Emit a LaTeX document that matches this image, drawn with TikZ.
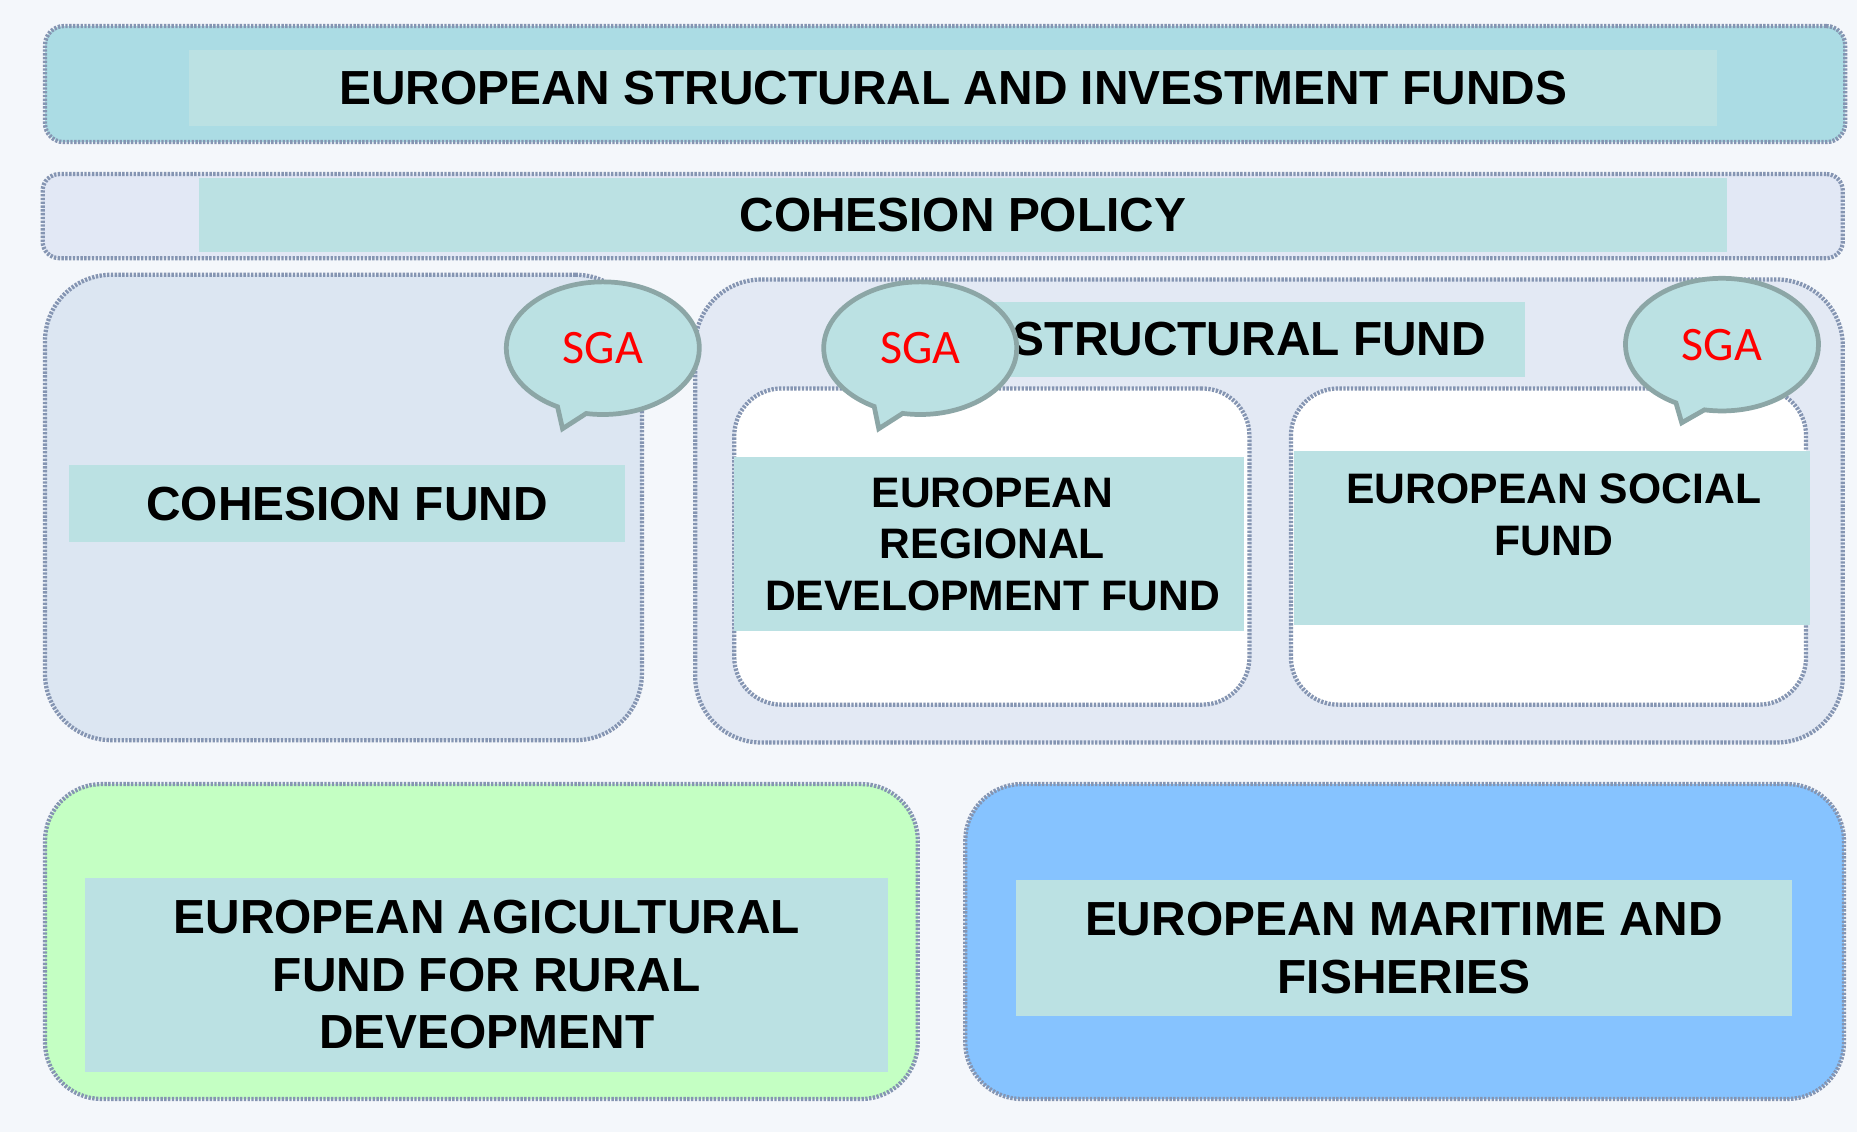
\documentclass[tikz,border=0pt]{standalone}
\usepackage{fontspec}
\setmainfont{Liberation Sans}
\newfontfamily\sgafont{Carlito}
\usepackage{xcolor}
\usetikzlibrary{shapes.callouts}
\definecolor{bgcol}{HTML}{F4F7FB}
\definecolor{framecol}{HTML}{8595B2}
\definecolor{lblcol}{HTML}{BBE1E3}
\definecolor{esifcol}{HTML}{ABDCE4}
\definecolor{policycol}{HTML}{E2E8F5}
\definecolor{cfcol}{HTML}{DCE6F2}
\definecolor{sfcol}{HTML}{E3E9F4}
\definecolor{eafrdcol}{HTML}{C4FFC3}
\definecolor{emffcol}{HTML}{86C3FF}
\definecolor{sgaline}{HTML}{8CA6A6}

\begin{document}
\begin{tikzpicture}[
  x=0.5pt, y=-0.5pt,
  every node/.style={inner sep=0pt,outer sep=0pt,align=center,font=\bfseries},
  fundbox/.style={rectangle,draw=framecol,line width=1.8pt,dash pattern=on 1pt off 0.6pt,rounded corners=#1},
  fundbox/.default=7pt,
  lbl/.style={rectangle,fill=lblcol},
  bigtxt/.style={font=\bfseries\fontsize{20.2}{24}\selectfont},
  midtxt/.style={font=\bfseries\fontsize{20.2}{24.25}\selectfont},
  smalltxt/.style={font=\bfseries\fontsize{18}{21.75}\selectfont},
  sga/.style={ellipse callout,fill=lblcol,draw=sgaline,line width=2pt,
    minimum width=81.5pt,minimum height=56pt,callout pointer arc=18,
    text=red,font=\sgafont\fontsize{20.3}{22}\selectfont}
  ]

\fill[bgcol] (0,0) rectangle (1568,956);

\node[fundbox=8pt,fill=esifcol,minimum width=760pt,minimum height=49pt] (esif) at (798,71) {};
\node[lbl,bigtxt,minimum width=645pt,minimum height=32pt] (esiflbl) at (805,74) {EUROPEAN STRUCTURAL AND INVESTMENT FUNDS};

\node[fundbox=7pt,fill=policycol,minimum width=760pt,minimum height=35.5pt] (policy) at (796,182.5) {};
\node[lbl,bigtxt,minimum width=645pt,minimum height=31.5pt] (policylbl) at (813,181.5) {COHESION POLICY};

\node[fundbox=28pt,fill=cfcol,minimum width=252pt,minimum height=196.5pt] (cf) at (290,428.5) {};
\node[lbl,bigtxt,minimum width=235pt,minimum height=32.5pt] (cflbl) at (293,425.5) {COHESION FUND};

\node[fundbox=28pt,fill=sfcol,minimum width=484.5pt,minimum height=195.5pt] (sf) at (1071.5,431.5) {};
\node[lbl,bigtxt,minimum width=233pt,minimum height=31.5pt] (sflbl) at (1055,286.5) {STRUCTURAL FUND};

\node[fundbox=20pt,fill=white,minimum width=217.5pt,minimum height=133.5pt] (erdf) at (837.5,461.5) {};
\node[lbl,minimum width=215pt,minimum height=73.5pt] (erdflbl) at (835,459.5) {};
\node[smalltxt] (erdftxt) at (838,459.5) {EUROPEAN\\REGIONAL\\DEVELOPMENT FUND};

\node[fundbox=20pt,fill=white,minimum width=217.5pt,minimum height=133.5pt] (esf) at (1307.5,461.5) {};
\node[lbl,minimum width=217.5pt,minimum height=73.5pt] (esflbl) at (1310.5,454.5) {};
\node[smalltxt] (esftxt) at (1312,434.5) {EUROPEAN SOCIAL\\FUND};

\node[fundbox=24pt,fill=eafrdcol,minimum width=368.5pt,minimum height=133pt] (eafrd) at (406.5,795) {};
\node[lbl,midtxt,minimum width=339pt,minimum height=82pt] (eafrdlbl) at (411,823) {EUROPEAN AGICULTURAL\\FUND FOR RURAL\\DEVEOPMENT};

\node[fundbox=24pt,fill=emffcol,minimum width=371pt,minimum height=133pt] (emff) at (1186,795) {};
\node[lbl,midtxt,minimum width=327.5pt,minimum height=57.5pt] (emfflbl) at (1185.5,800.5) {EUROPEAN MARITIME AND\\FISHERIES};

\node[sga,callout absolute pointer={(475,362)}] (sgacf) at (509,294) {SGA};
\node[sga,callout absolute pointer={(742,362)}] (sgaerdf) at (777,294) {SGA};
\node[sga,callout absolute pointer={(1420,357)}] (sgaesf) at (1454,291) {SGA};

\end{tikzpicture}
\end{document}
